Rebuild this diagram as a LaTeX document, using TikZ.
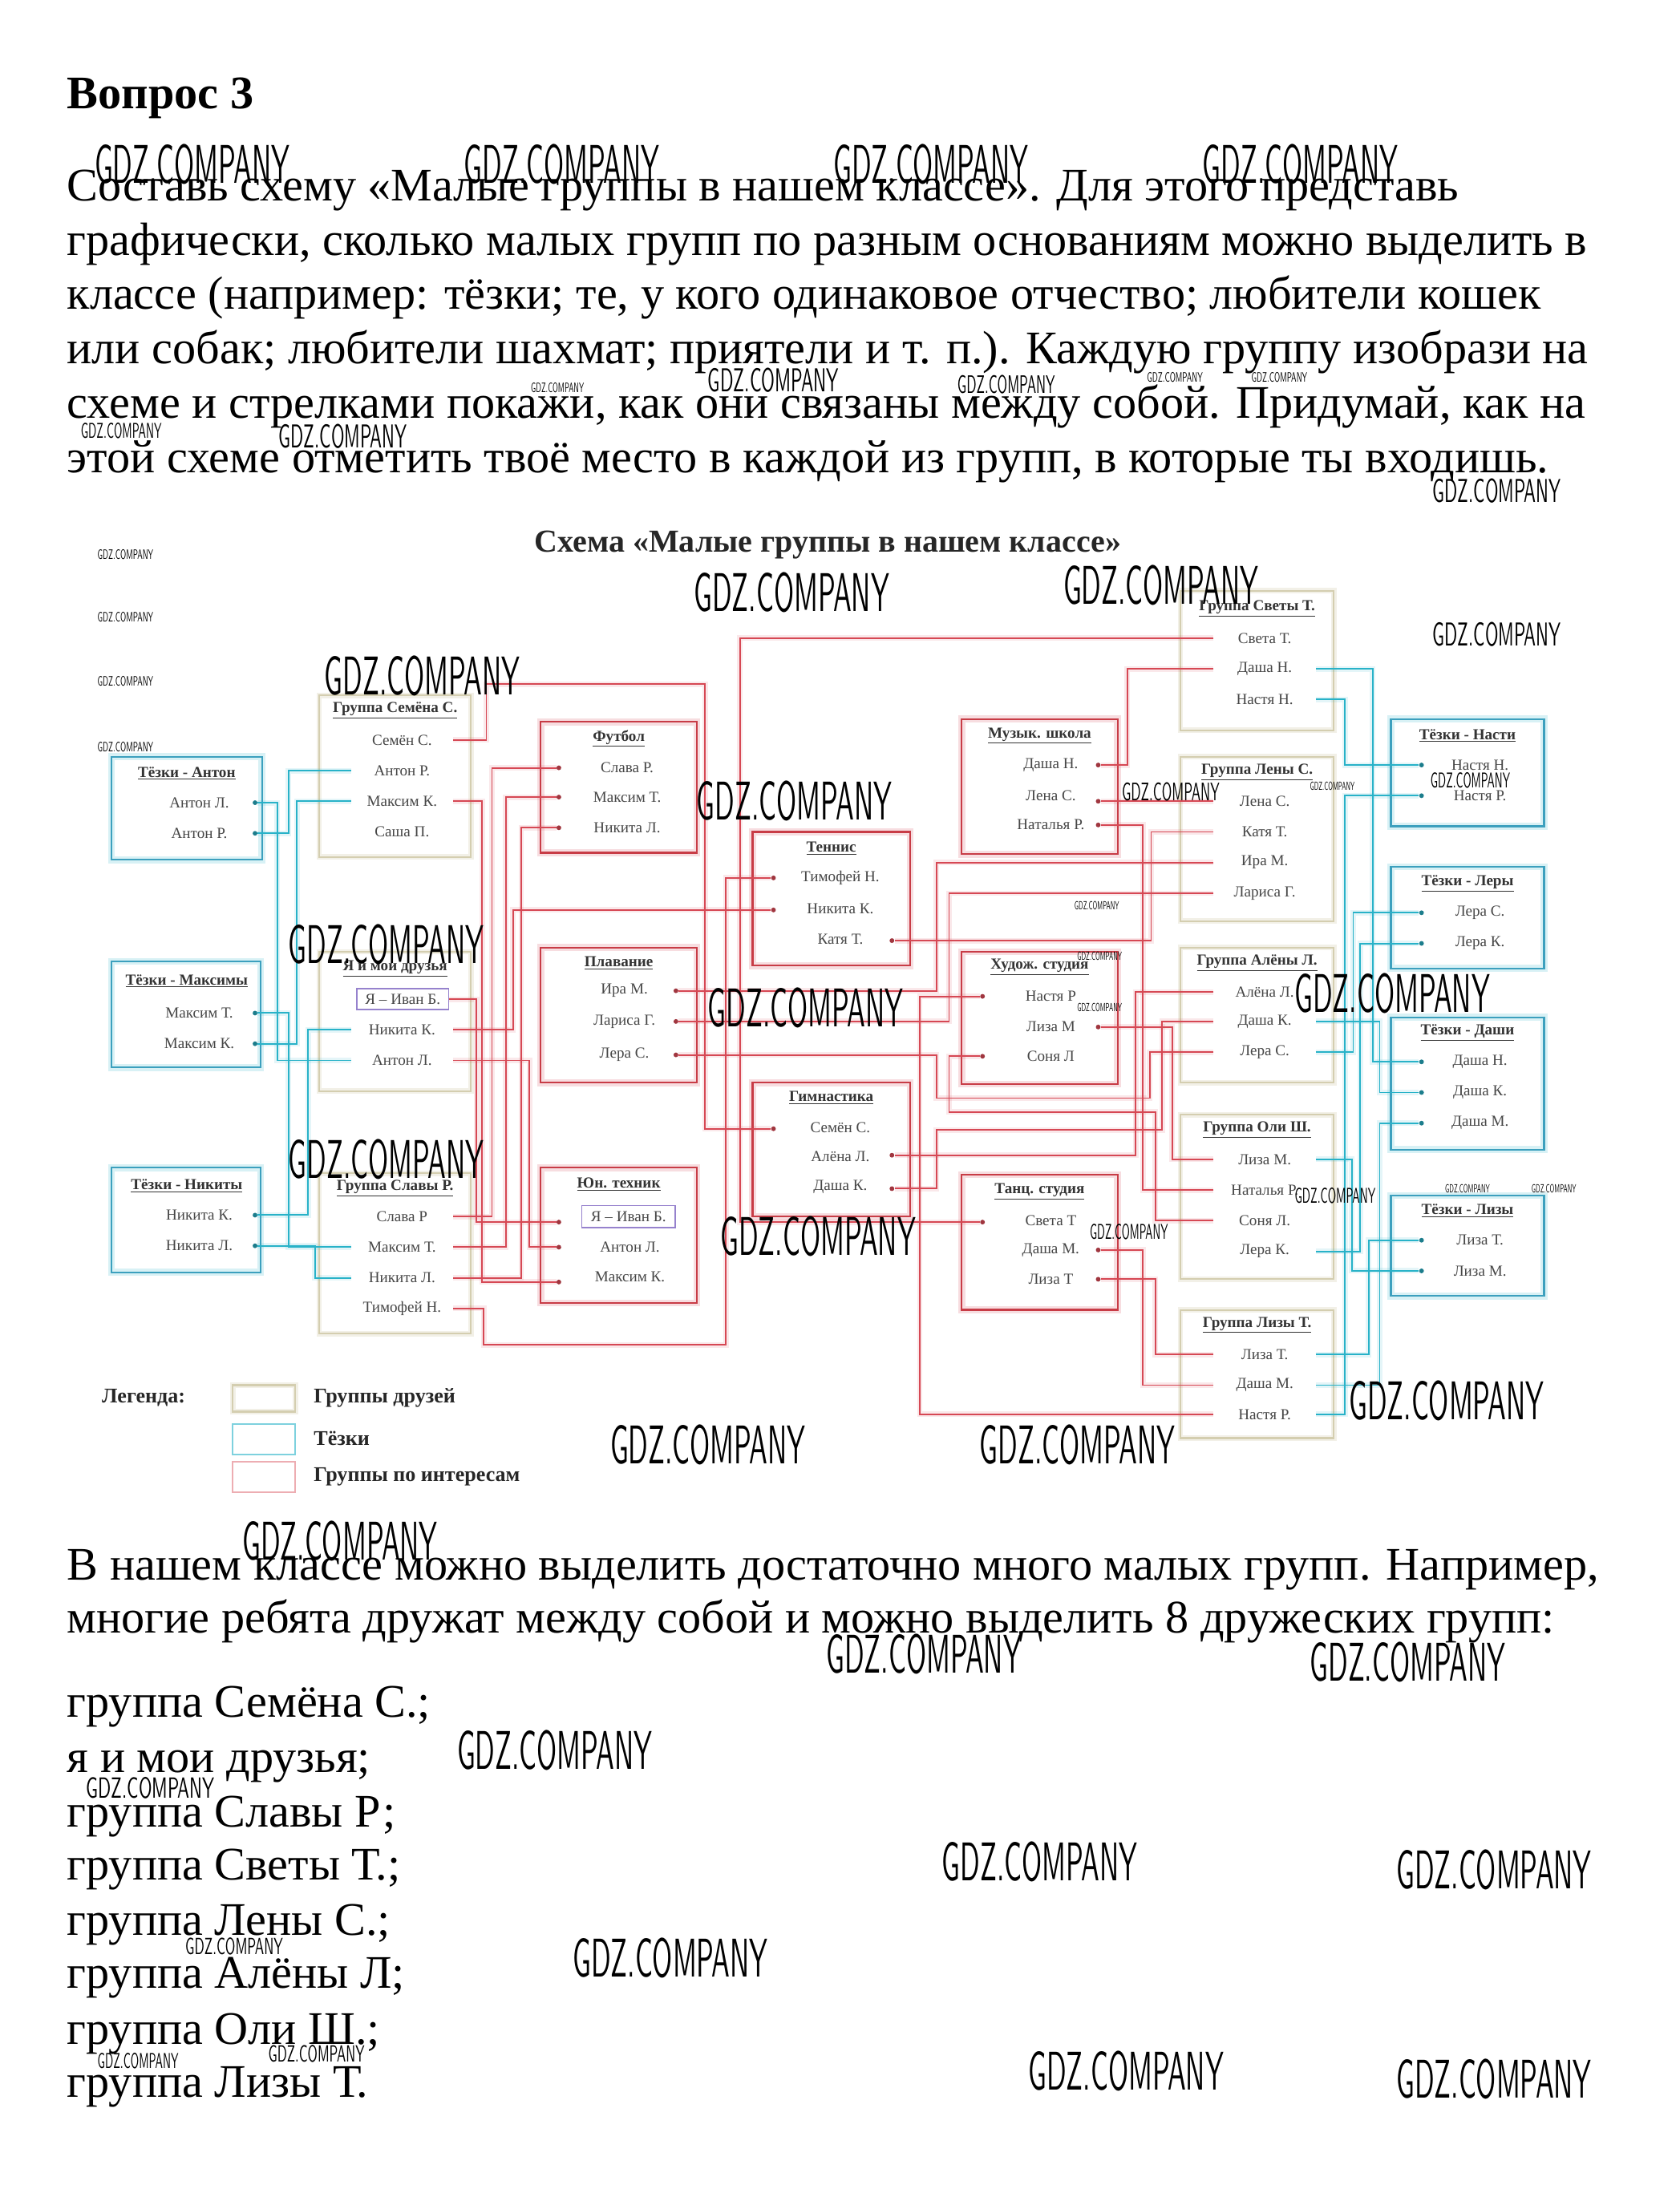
\documentclass[tikz,border=0pt]{standalone}
\usepackage{fontspec}
\setmainfont{Liberation Serif}
\usetikzlibrary{fit}
\definecolor{linered}{RGB}{214,72,84}
\definecolor{linecyan}{RGB}{40,178,200}
\definecolor{boxred}{RGB}{200,60,70}
\definecolor{boxcyan}{RGB}{60,160,190}
\definecolor{boxfriend}{RGB}{212,206,176}
\definecolor{boxme}{RGB}{150,130,205}
\definecolor{txtgray}{RGB}{70,70,70}
\newcommand\mkbox[6]{\node[#1, inner sep=0pt, fit={(#3,#4) (#5,#6)}] (#2) {};}
\newcommand\mkttl[4]{\node[ttl] (#1) at (#2,#3) {\underline{#4}};}
\newcommand\mkitm[4]{\node[itm] (#1) at (#2,#3) {#4};}
\newcommand\mkdot[4]{\node[#1] (#2) at (#3,#4) {};}
\newcommand\gdz[4]{\node[inner sep=0pt] at (#1,#2) {\resizebox{#3pt}{#4pt}{\sffamily GDZ.COMPANY}};}
\begin{document}
\begin{tikzpicture}[x=1pt,y=-1pt,
  ptxt/.style={anchor=base west, inner sep=0pt, font=\fontsize{33.5}{40}\selectfont},
  friendbox/.style={draw=boxfriend, line width=1.2pt, preaction={draw=boxfriend, opacity=0.3, line width=4pt}},
  tezbox/.style={draw=boxcyan, line width=1.3pt, preaction={draw=linecyan, opacity=0.18, line width=5pt}},
  intbox/.style={draw=boxred, line width=1.3pt, preaction={draw=linered, opacity=0.18, line width=5pt}},
  ttl/.style={inner sep=0pt, text=black!80, font=\bfseries\fontsize{11}{12}\selectfont},
  itm/.style={inner sep=0pt, text=txtgray, font=\fontsize{11}{12}\selectfont, minimum width=73pt, minimum height=10pt, align=center},
  rw/.style={draw=linered, line width=1.1pt, preaction={draw=linered, opacity=0.12, line width=4pt}},
  cw/.style={draw=linecyan, line width=1.1pt, preaction={draw=linecyan, opacity=0.12, line width=4pt}},
  rdot/.style={circle, fill=linered!75!black, inner sep=0pt, minimum size=3.4pt},
  cdot/.style={circle, fill=linecyan!70!black, inner sep=0pt, minimum size=3.4pt},
  leg/.style={anchor=west, inner sep=0pt, font=\bfseries\fontsize{15}{16}\selectfont, text=black!85}
]
\useasboundingbox (0,0) rectangle (1205,1568);
\fill[white] (0,0) rectangle (1205,1568);

% ---------- page text ----------
\node[ptxt, font=\bfseries\fontsize{33.5}{40}\selectfont] (q) at (48,78) {Вопрос 3};
\node[ptxt] (p1) at (48,144) {Составь схему «Малые группы в нашем классе». Для этого представь};
\node[ptxt] (p2) at (48,183) {графически, сколько малых групп по разным основаниям можно выделить в};
\node[ptxt] (p3) at (48,222) {классе (например: тёзки; те, у кого одинаковое отчество; любители кошек};
\node[ptxt] (p4) at (48,261) {или собак; любители шахмат; приятели и т. п.). Каждую группу изобрази на};
\node[ptxt] (p5) at (48,300) {схеме и стрелками покажи, как они связаны между собой. Придумай, как на};
\node[ptxt] (p6) at (48,339) {этой схеме отметить твоё место в каждой из групп, в которые ты входишь.};

\node[ptxt] (b1) at (48,1134) {В нашем классе можно выделить достаточно много малых групп. Например,};
\node[ptxt] (b2) at (48,1172) {многие ребята дружат между собой и можно выделить 8 дружеских групп:};
\node[ptxt] (l1) at (48,1232) {группа Семёна С.;};
\node[ptxt] (l2) at (48,1272) {я и мои друзья;};
\node[ptxt] (l3) at (48,1311) {группа Славы Р;};
\node[ptxt] (l4) at (48,1349) {группа Светы Т.;};
\node[ptxt] (l5) at (48,1389) {группа Лены С.;};
\node[ptxt] (l6) at (48,1427) {группа Алёны Л;};
\node[ptxt] (l7) at (48,1467) {группа Оли Ш.;};
\node[ptxt] (l8) at (48,1505) {группа Лизы Т.};

% ---------- diagram title ----------
\node[inner sep=0pt, font=\bfseries\fontsize{23}{26}\selectfont, text=black!85] (dtitle) at (594,391) {Схема «Малые группы в нашем классе»};

% ---------- boxes ----------
\mkbox{tezbox}{tA}{80}{543}{188}{617}
\mkbox{tezbox}{tM}{80}{690}{187}{766}
\mkbox{tezbox}{tN}{80}{838}{187}{913}
\mkbox{friendbox}{fS}{229}{499}{338}{615}
\mkbox{friendbox}{fI}{229}{683}{338}{783}
\mkbox{friendbox}{fR}{229}{842}{338}{957}
\mkbox{intbox}{iF}{388}{518}{500}{612}
\mkbox{intbox}{iP}{388}{680}{500}{777}
\mkbox{intbox}{iY}{388}{838}{500}{935}
\mkbox{intbox}{iT}{540}{597}{653}{693}
\mkbox{intbox}{iG}{540}{777}{653}{873}
\mkbox{intbox}{iM}{690}{516}{802}{613}
\mkbox{intbox}{iH}{690}{683}{802}{778}
\mkbox{intbox}{iD}{690}{843}{802}{940}
\mkbox{friendbox}{fV}{847}{424}{957}{524}
\mkbox{friendbox}{fL}{847}{543}{957}{661}
\mkbox{friendbox}{fA}{847}{680}{957}{777}
\mkbox{friendbox}{fO}{847}{800}{957}{918}
\mkbox{friendbox}{fZ}{847}{940}{957}{1032}
\mkbox{tezbox}{tH}{998}{516}{1108}{593}
\mkbox{tezbox}{tL}{998}{622}{1108}{695}
\mkbox{tezbox}{tD}{998}{730}{1108}{825}
\mkbox{tezbox}{tZ}{998}{858}{1108}{930}

% ---------- titles and items ----------
\mkttl{tAt}{134}{555}{Тёзки - Антон}
\mkitm{tA1}{143}{576}{Антон Л.} \mkitm{tA2}{143}{598}{Антон Р.}
\mkttl{tMt}{134}{704}{Тёзки - Максимы}
\mkitm{tM1}{143}{727}{Максим Т.} \mkitm{tM2}{143}{749}{Максим К.}
\mkttl{tNt}{134}{851}{Тёзки - Никиты}
\mkitm{tN1}{143}{872}{Никита К.} \mkitm{tN2}{143}{894}{Никита Л.}

\mkttl{fSt}{283.5}{510}{Группа Семёна С.}
\mkitm{fS1}{288.5}{531}{Семён С.} \mkitm{fS2}{288.5}{553}{Антон Р.}
\mkitm{fS3}{288.5}{575}{Максим К.} \mkitm{fS4}{288.5}{597}{Саша П.}
\mkttl{fIt}{283.5}{695}{Я и мои друзья}
\node[itm, draw=boxme, line width=0.8pt, minimum width=66pt, minimum height=15pt] (fI1) at (289,717) {Я – Иван Б.};
\mkitm{fI2}{288.5}{739}{Никита К.} \mkitm{fI3}{288.5}{761}{Антон Л.}
\mkttl{fRt}{283.5}{853}{Группа Славы Р.}
\mkitm{fR1}{288.5}{873}{Слава Р} \mkitm{fR2}{288.5}{895}{Максим Т.}
\mkitm{fR3}{288.5}{917}{Никита Л.} \mkitm{fR4}{288.5}{939}{Тимофей Н.}

\mkttl{iFt}{444}{530}{Футбол}
\mkitm{iF1}{450}{551}{Слава Р.} \mkitm{iF2}{450}{572}{Максим Т.} \mkitm{iF3}{450}{594}{Никита Л.}
\mkttl{iPt}{444}{691}{Плавание}
\mkitm{iP1}{448}{711}{Ира М.} \mkitm{iP2}{448}{733}{Лариса Г.} \mkitm{iP3}{448}{757}{Лера С.}
\mkttl{iYt}{444}{850}{Юн. техник}
\node[itm, draw=boxme, line width=0.8pt, minimum width=67pt, minimum height=16pt] (iY1) at (451,873) {Я – Иван Б.};
\mkitm{iY2}{452}{895}{Антон Л.} \mkitm{iY3}{452}{916}{Максим К.}

\mkttl{iTt}{596.5}{609}{Теннис}
\mkitm{iT1}{603}{630}{Тимофей Н.} \mkitm{iT2}{603}{652}{Никита К.} \mkitm{iT3}{603}{674}{Катя Т.}
\mkttl{iGt}{596.5}{788}{Гимнастика}
\mkitm{iG1}{603}{809}{Семён С.} \mkitm{iG2}{603}{830}{Алёна Л.} \mkitm{iG3}{603}{852}{Даша К.}

\mkttl{iMt}{746}{528}{Музык. школа}
\mkitm{iM1}{754}{549}{Даша Н.} \mkitm{iM2}{754}{571}{Лена С.} \mkitm{iM3}{754}{592}{Наталья Р.}
\mkttl{iHt}{746}{694}{Худож. студия}
\mkitm{iH1}{754}{715}{Настя Р} \mkitm{iH2}{754}{737}{Лиза М} \mkitm{iH3}{754}{758}{Соня Л}
\mkttl{iDt}{746}{855}{Танц. студия}
\mkitm{iD1}{754}{876}{Света Т} \mkitm{iD2}{754}{897}{Даша М.} \mkitm{iD3}{754}{918}{Лиза Т}

\mkttl{fVt}{902}{437}{Группа Светы Т.}
\mkitm{fV1}{907.5}{458}{Света Т.} \mkitm{fV2}{907.5}{480}{Даша Н.} \mkitm{fV3}{907.5}{502}{Настя Н.}
\mkttl{fLt}{902}{554}{Группа Лены С.}
\mkitm{fL1}{907.5}{575}{Лена С.} \mkitm{fL2}{907.5}{597}{Катя Т.}
\mkitm{fL3}{907.5}{619}{Ира М.} \mkitm{fL4}{907.5}{641}{Лариса Г.}
\mkttl{fAt}{902}{691}{Группа Алёны Л.}
\mkitm{fA1}{907.5}{712}{Алёна Л.} \mkitm{fA2}{907.5}{733}{Даша К.} \mkitm{fA3}{907.5}{755}{Лера С.}
\mkttl{fOt}{902}{811}{Группа Оли Ш.}
\mkitm{fO1}{907.5}{832}{Лиза М.} \mkitm{fO2}{907.5}{854}{Наталья Р.}
\mkitm{fO3}{907.5}{876}{Соня Л.} \mkitm{fO4}{907.5}{898}{Лера К.}
\mkttl{fZt}{902}{951}{Группа Лизы Т.}
\mkitm{fZ1}{907.5}{972}{Лиза Т.} \mkitm{fZ2}{907.5}{994}{Даша М.} \mkitm{fZ3}{907.5}{1015}{Настя Р.}

\mkttl{tHt}{1053}{528}{Тёзки - Насти}
\mkitm{tH1}{1062}{549}{Настя Н.} \mkitm{tH2}{1062}{571}{Настя Р.}
\mkttl{tLt}{1053}{634}{Тёзки - Леры}
\mkitm{tL1}{1062}{655}{Лера С.} \mkitm{tL2}{1062}{677}{Лера К.}
\mkttl{tDt}{1053}{741}{Тёзки - Даши}
\mkitm{tD1}{1062}{762}{Даша Н.} \mkitm{tD2}{1062}{784}{Даша К.} \mkitm{tD3}{1062}{806}{Даша М.}
\mkttl{tZt}{1053}{869}{Тёзки - Лизы}
\mkitm{tZ1}{1062}{890}{Лиза Т.} \mkitm{tZ2}{1062}{912}{Лиза М.}

% ---------- dots ----------
\mkdot{cdot}{dA1}{183}{576} \mkdot{cdot}{dA2}{183}{598}
\mkdot{cdot}{dM1}{183}{727} \mkdot{cdot}{dM2}{183}{749}
\mkdot{cdot}{dN1}{183}{872} \mkdot{cdot}{dN2}{183}{894}
\mkdot{rdot}{dF1}{401}{551} \mkdot{rdot}{dF2}{401}{572} \mkdot{rdot}{dF3}{401}{594}
\mkdot{rdot}{dP1}{485}{711} \mkdot{rdot}{dP2}{485}{733} \mkdot{rdot}{dP3}{485}{757}
\mkdot{rdot}{dY1}{401}{877} \mkdot{rdot}{dY2}{401}{895} \mkdot{rdot}{dY3}{401}{920}
\mkdot{rdot}{dT1}{555}{630} \mkdot{rdot}{dT2}{555}{653} \mkdot{rdot}{dT3}{640}{675}
\mkdot{rdot}{dG1}{555}{810} \mkdot{rdot}{dG2}{640}{829} \mkdot{rdot}{dG3}{640}{853}
\mkdot{rdot}{dM1r}{788}{549} \mkdot{rdot}{dM2r}{788}{575} \mkdot{rdot}{dM3r}{788}{592}
\mkdot{rdot}{dH1}{705}{715} \mkdot{rdot}{dH2}{788}{737} \mkdot{rdot}{dH3}{705}{758}
\mkdot{rdot}{dD1}{705}{877} \mkdot{rdot}{dD2}{788}{897} \mkdot{rdot}{dD3}{788}{918}
\mkdot{cdot}{dH1c}{1020}{549} \mkdot{cdot}{dH2c}{1020}{571}
\mkdot{cdot}{dL1c}{1020}{655} \mkdot{cdot}{dL2c}{1020}{677}
\mkdot{cdot}{dD1c}{1020}{762} \mkdot{cdot}{dD2c}{1020}{784} \mkdot{cdot}{dD3c}{1020}{806}
\mkdot{cdot}{dZ1c}{1020}{890} \mkdot{cdot}{dZ2c}{1020}{912}

% ---------- red connectors ----------
\draw[rw] (fS1.east) -- (349,531) -- (349,491) -- (506,491) -- (506,810) -- (dG1);
\draw[rw] (fS3.east) -- (346,575) -- (346,920) -- (dY3);
\draw[rw] (fI1.east) -- (342,717) -- (342,877) -- (dY1);
\draw[rw] (fI2.east) -- (368,739) -- (368,653) -- (dT2);
\draw[rw] (fI3.east) -- (380,761) -- (380,895) -- (dY2);
\draw[rw] (fR1.east) -- (353,873) -- (353,551) -- (dF1);
\draw[rw] (fR2.east) -- (363,895) -- (363,572) -- (dF2);
\draw[rw] (fR3.east) -- (374,917) -- (374,594) -- (dF3);
\draw[rw] (fR4.east) -- (347,939) -- (347,965) -- (521,965) -- (521,630) -- (dT1);
\draw[rw] (fV1.west) -- (531,458) -- (531,877) -- (dD1);
\draw[rw] (fV2.west) -- (809,480) -- (809,549) -- (dM1r);
\draw[rw] (fL1.west) -- (dM2r);
\draw[rw] (fL2.west) -- (826,597) -- (826,675) -- (dT3);
\draw[rw] (fL3.west) -- (672,619) -- (672,711) -- (dP1);
\draw[rw] (fL4.west) -- (681,641) -- (681,733) -- (dP2);
\draw[rw] (fO2.west) -- (820,854) -- (820,592) -- (dM3r);
\draw[rw] (fA1.west) -- (815,712) -- (815,829) -- (dG2);
\draw[rw] (fA2.west) -- (834,733) -- (834,811) -- (672,811) -- (672,853) -- (dG3);
\draw[rw] (fA3.west) -- (825,755) -- (825,788) -- (672,788) -- (672,757) -- (dP3);
\draw[rw] (fO1.west) -- (841,832) -- (841,737) -- (dH2);
\draw[rw] (fO3.west) -- (829,876) -- (829,798) -- (681,798) -- (681,758) -- (dH3);
\draw[rw] (fZ2.west) -- (820,994) -- (820,897) -- (dD2);
\draw[rw] (fZ1.west) -- (829,972) -- (829,918) -- (dD3);
\draw[rw] (fZ3.west) -- (660,1015) -- (660,715) -- (dH1);

% ---------- cyan connectors ----------
\draw[cw] (fS2.west) -- (207,553) -- (207,598) -- (dA2);
\draw[cw] (fS3.west) -- (213,575) -- (213,749) -- (dM2);
\draw[cw] (fI3.west) -- (199,761) -- (199,576) -- (dA1);
\draw[cw] (fI2.west) -- (221,739) -- (221,872) -- (dN1);
\draw[cw] (fR2.west) -- (207,895) -- (207,727) -- (dM1);
\draw[cw] (fR3.west) -- (226,917) -- (226,894) -- (dN2);
\draw[cw] (fV2.east) -- (985,480) -- (985,762) -- (dD1c);
\draw[cw] (fV3.east) -- (965,502) -- (965,549) -- (dH1c);
\draw[cw] (fZ3.east) -- (965,1015) -- (965,571) -- (dH2c);
\draw[cw] (fA3.east) -- (971,755) -- (971,655) -- (dL1c);
\draw[cw] (fA2.east) -- (990,733) -- (990,784) -- (dD2c);
\draw[cw] (fO1.east) -- (970,832) -- (970,912) -- (dZ2c);
\draw[cw] (fO4.east) -- (976,898) -- (976,677) -- (dL2c);
\draw[cw] (fZ1.east) -- (982,972) -- (982,890) -- (dZ1c);
\draw[cw] (fZ2.east) -- (990,994) -- (990,806) -- (dD3c);

% ---------- legend ----------
\node[leg] (legt) at (73,1003) {Легенда:};
\mkbox{friendbox}{lgF}{167}{994}{212}{1013}
\mkbox{draw=linecyan!60, line width=1.2pt}{lgT}{167}{1022}{212}{1044}
\mkbox{draw=linered!45, line width=1.2pt}{lgI}{167}{1049}{212}{1071}
\node[leg] (lgFt) at (225,1003) {Группы друзей};
\node[leg] (lgTt) at (225,1032) {Тёзки};
\node[leg] (lgIt) at (225,1060) {Группы по интересам};

% ---------- watermarks ----------
\gdz{138}{118}{140}{28} \gdz{403}{118}{140}{28} \gdz{668}{118}{140}{28} \gdz{933}{118}{140}{28}
\gdz{568}{425}{140}{28} \gdz{833}{420}{140}{28} \gdz{303}{485}{140}{28} \gdz{570}{575}{140}{28}
\gdz{277}{678}{140}{28} \gdz{578}{723}{140}{28} \gdz{999}{713}{140}{28} \gdz{277}{832}{140}{28}
\gdz{587}{887}{140}{28} \gdz{1038}{1005}{140}{28} \gdz{508}{1037}{140}{28} \gdz{773}{1037}{140}{28}
\gdz{244}{1106}{140}{28} \gdz{663}{1187}{140}{28} \gdz{1010}{1193}{140}{28} \gdz{398}{1256}{140}{28}
\gdz{746}{1336}{140}{28} \gdz{1072}{1342}{140}{28} \gdz{481}{1405}{140}{28} \gdz{808}{1486}{140}{28}
\gdz{1072}{1492}{140}{28}
\gdz{555}{273}{94}{17} \gdz{246}{313}{92}{17} \gdz{1074}{352}{92}{17} \gdz{1074}{455}{92}{17}
\gdz{722}{276}{70}{13} \gdz{108}{1283}{92}{15} \gdz{87}{309}{58}{11} \gdz{168}{1397}{70}{12}
\gdz{99}{1479}{58}{11} \gdz{227}{1474}{69}{12} \gdz{840}{568}{70}{13} \gdz{958}{858}{58}{11}
\gdz{810}{884}{56}{11} \gdz{1055}{560}{57}{11}
\gdz{400}{278}{38}{7} \gdz{843}{271}{40}{7} \gdz{918}{271}{40}{7} \gdz{90}{398}{40}{7}
\gdz{90}{443}{40}{7} \gdz{90}{489}{40}{7} \gdz{90}{536}{40}{7} \gdz{956}{564}{32}{6}
\gdz{787}{650}{32}{6} \gdz{789}{686}{32}{6} \gdz{789}{723}{32}{6} \gdz{1053}{853}{32}{6}
\gdz{1115}{853}{32}{6}
\end{tikzpicture}
\end{document}
